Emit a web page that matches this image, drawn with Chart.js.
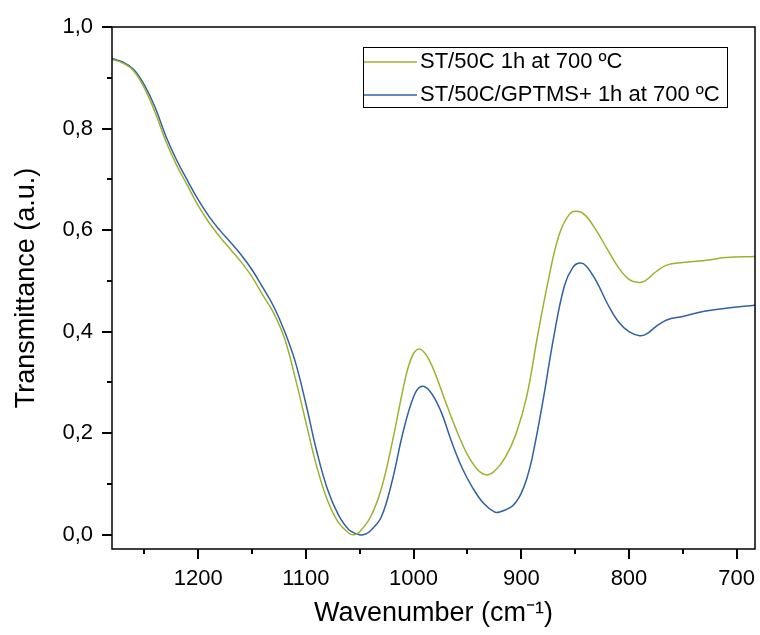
<!DOCTYPE html>
<html>
<head>
<meta charset="utf-8">
<script src="https://cdn.jsdelivr.net/npm/chart.js@4.4.1/dist/chart.umd.min.js"></script>
<style>
	html, body { margin: 0; padding: 0; background: #fff; }
	#wrap { width: 760px; height: 635px; }
</style>
</head>
<body>
<div id="wrap"><canvas id="ftir" width="760" height="635"></canvas></div>
<script>
// ST/50C 1h at 700 ºC
const WAVE_G	= [ 1280, 1270, 1260, 1250, 1240, 1230, 1220, 1210, 1200, 1190, 1180, 1170, 1160, 1150, 1140, 1130, 1120, 1110, 1100, 1090, 1080, 1070, 1060, 1055, 1050, 1040, 1030, 1020, 1010, 1005, 1000, 995, 990, 985, 980, 970, 960, 950, 940, 932, 925, 915, 905, 895, 885, 875, 865, 855, 848, 840, 830, 820, 810, 800, 791, 785, 775, 765, 750, 730, 710, 683 ];
const TRANS_G	= [ 0.936, 0.929, 0.914, 0.880, 0.832, 0.775, 0.728, 0.688, 0.648, 0.615, 0.587, 0.562, 0.537, 0.508, 0.472, 0.437, 0.388, 0.310, 0.222, 0.135, 0.068, 0.025, 0.003, 0.000, 0.006, 0.035, 0.090, 0.180, 0.285, 0.330, 0.357, 0.366, 0.359, 0.342, 0.318, 0.260, 0.205, 0.158, 0.127, 0.118, 0.125, 0.152, 0.198, 0.272, 0.390, 0.500, 0.590, 0.632, 0.637, 0.628, 0.598, 0.562, 0.527, 0.503, 0.497, 0.500, 0.518, 0.531, 0.536, 0.540, 0.546, 0.548 ];

// ST/50C/GPTMS+ 1h at 700 ºC
const WAVE_B	= [ 1280, 1270, 1260, 1250, 1240, 1230, 1220, 1210, 1200, 1190, 1180, 1170, 1160, 1150, 1140, 1130, 1120, 1110, 1100, 1090, 1080, 1070, 1060, 1050, 1045, 1040, 1030, 1020, 1010, 1000, 993, 985, 975, 965, 955, 945, 935, 925, 920, 910, 905, 900, 895, 890, 880, 870, 860, 852, 846, 840, 830, 820, 810, 800, 790, 784, 775, 765, 750, 730, 710, 683 ];
const TRANS_B	= [ 0.938, 0.931, 0.917, 0.886, 0.842, 0.785, 0.738, 0.698, 0.660, 0.627, 0.600, 0.576, 0.551, 0.522, 0.487, 0.450, 0.402, 0.342, 0.258, 0.165, 0.090, 0.040, 0.010, 0.000, 0.001, 0.008, 0.035, 0.105, 0.200, 0.272, 0.292, 0.283, 0.245, 0.185, 0.132, 0.092, 0.062, 0.045, 0.045, 0.054, 0.064, 0.082, 0.110, 0.150, 0.262, 0.388, 0.490, 0.527, 0.535, 0.530, 0.498, 0.455, 0.420, 0.400, 0.392, 0.395, 0.410, 0.423, 0.430, 0.440, 0.446, 0.452 ];

const LABELS	= [ "ST/50C 1h at 700 ºC", "ST/50C/GPTMS+ 1h at 700 ºC" ];
const COLORS	= [ "#9db22e", "#2f62a0" ];

const X_MAJOR	= [ 1200, 1100, 1000, 900, 800, 700 ];
const X_MINOR	= [ 1250, 1150, 1050, 950, 850, 750 ];
const Y_MAJOR	= [ 0, 0.2, 0.4, 0.6, 0.8, 1.0 ];
const Y_MINOR	= [ 0.1, 0.3, 0.5, 0.7, 0.9 ];

const FONT	= "'Liberation Sans', Arial, sans-serif";

function pts( xs, ys ) {
	return xs.map( ( v, i ) => ( { x: v, y: ys[ i ] } ) );
}

function noPad( s ) {
	s.paddingLeft	= 0;
	s.paddingRight	= 0;
	s.paddingTop	= 0;
	s.paddingBottom	= 0;
}

const frameTicks = {
	id: "frameTicks",
	afterDraw( chart ) {
		const ctx	= chart.ctx;
		const a		= chart.chartArea;
		const x		= chart.scales.x;
		const y		= chart.scales.y;

		ctx.save();
		ctx.strokeStyle	= "#000";
		ctx.lineWidth	= 1.5;
		ctx.strokeRect( a.left, a.top, a.right - a.left, a.bottom - a.top );

		ctx.lineWidth	= 2;
		ctx.beginPath();
		for ( const v of X_MAJOR ) {
			const p = Math.round( x.getPixelForValue( v ) );
			ctx.moveTo( p, a.bottom );
			ctx.lineTo( p, a.bottom + 10 );
		}
		for ( const v of X_MINOR ) {
			const p = Math.round( x.getPixelForValue( v ) );
			ctx.moveTo( p, a.bottom );
			ctx.lineTo( p, a.bottom + 5 );
		}
		for ( const v of Y_MAJOR ) {
			const p = Math.round( y.getPixelForValue( v ) );
			ctx.moveTo( a.left, p );
			ctx.lineTo( a.left - 10, p );
		}
		for ( const v of Y_MINOR ) {
			const p = Math.round( y.getPixelForValue( v ) );
			ctx.moveTo( a.left, p );
			ctx.lineTo( a.left - 5, p );
		}
		ctx.stroke();

		// legend box
		const lx = a.left + 251, ly = a.top + 20, lw = 364, lh = 60;
		ctx.fillStyle	= "#fff";
		ctx.fillRect( lx, ly, lw, lh );
		ctx.lineWidth	= 1;
		ctx.strokeStyle	= "#000";
		ctx.strokeRect( lx + 0.5, ly + 0.5, lw, lh );

		ctx.font		= "22px " + FONT;
		ctx.textBaseline	= "middle";
		chart.data.datasets.forEach( ( ds, i ) => {
			const ry = ly + 15 + i * 33;
			ctx.strokeStyle	= ds.borderColor;
			ctx.lineWidth	= 1.5;
			ctx.beginPath();
			ctx.moveTo( lx + 1, ry );
			ctx.lineTo( lx + 54, ry );
			ctx.stroke();
			ctx.fillStyle	= "#000";
			ctx.fillText( ds.label, lx + 57, ry );
		} );
		ctx.restore();
	}
};

const datasets = [
	{ label: LABELS[ 0 ], data: pts( WAVE_G, TRANS_G ), borderColor: COLORS[ 0 ] },
	{ label: LABELS[ 1 ], data: pts( WAVE_B, TRANS_B ), borderColor: COLORS[ 1 ] }
];

new Chart( document.getElementById( "ftir" ), {
	type: "line",
	data: { datasets: datasets },
	options: {
		responsive: false,
		animation: false,
		events: [],
		layout: { padding: { top: 27, right: 5, left: 0, bottom: 0 } },
		elements: {
			point: { radius: 0 },
			line: { borderWidth: 1.5, tension: 0.4, fill: false }
		},
		plugins: { legend: { display: false }, tooltip: { enabled: false } },
		scales: {
			x: {
				type: "linear",
				reverse: true,
				min: 683,
				max: 1280,
				afterBuildTicks: s => { s.ticks = X_MAJOR.map( v => ( { value: v } ) ); },
				afterFit: s => { s.height = 86; noPad( s ); },
				grid: { display: false, drawTicks: false },
				border: { display: false },
				ticks: {
					padding: 17,
					color: "#000",
					font: { family: FONT, size: 22 },
					maxRotation: 0,
					callback: v => String( v )
				},
				title: {
					display: true,
					text: "Wavenumber (cm⁻¹)",
					color: "#000",
					font: { family: FONT, size: 27 },
					padding: { top: 0, bottom: 5 }
				}
			},
			y: {
				min: -0.028,
				max: 1.0,
				afterBuildTicks: s => { s.ticks = Y_MAJOR.map( v => ( { value: v } ) ); },
				afterFit: s => { s.width = 112; noPad( s ); },
				grid: { display: false, drawTicks: false },
				border: { display: false },
				ticks: {
					padding: 19,
					color: "#000",
					font: { family: FONT, size: 22 },
					callback: v => v.toFixed( 1 ).replace( ".", "," )
				},
				title: {
					display: true,
					text: "Transmittance (a.u.)",
					color: "#000",
					font: { family: FONT, size: 27 },
					padding: { top: 10, bottom: 0 }
				}
			}
		}
	},
	plugins: [ frameTicks ]
} );
</script>
</body>
</html>
